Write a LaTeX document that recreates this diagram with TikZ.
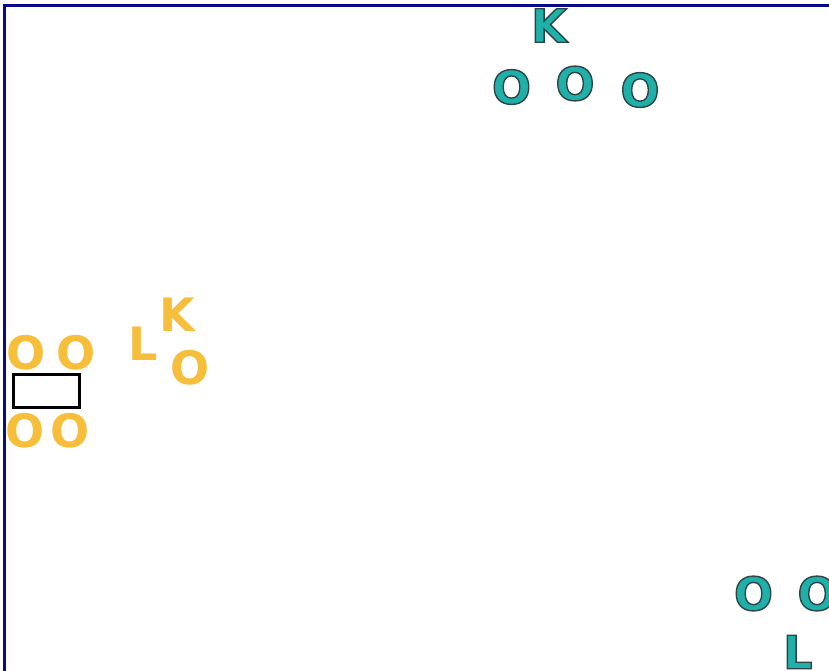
\documentclass[tikz,border=0pt]{standalone}
\usepackage{fontspec}
\setmainfont{DejaVu Sans}
\definecolor{tealfill}{RGB}{32,176,170}
\definecolor{goldfill}{RGB}{246,190,58}
\definecolor{framenavy}{RGB}{10,10,140}
% fill and stroke the glyph, with a dark edge
\newcommand{\tealglyph}[1]{\special{pdf:literal direct 0.18 0.27 0.27 RG 1.4 w 2 Tr}#1\special{pdf:literal direct 0 Tr}}

\begin{document}
\begin{tikzpicture}[x=1pt, y=-1pt, line join=miter,
  letter/.style={inner sep=0pt, font=\fontsize{46}{46}\selectfont\bfseries},
  tealletter/.style={letter, text=tealfill},
  goldletter/.style={letter, text=goldfill}]
  \useasboundingbox (0,0) rectangle (829,670);
  \clip (0,0) rectangle (829,670);
  \draw[framenavy, line width=3pt] (4.5,672) -- (4.5,5.5) -- (831,5.5);
  % teal group at the top
  \node[tealletter] (topK) at (549,25.5) {\tealglyph{K}};
  \foreach \n/\x/\y in {1/511.5/87, 2/575/83.5, 3/640/90}
    \node[tealletter] (topO\n) at (\x,\y) {\tealglyph{O}};
  % teal group at the bottom right
  \foreach \n/\x in {1/753.5, 2/817}
    \node[tealletter] (lowO\n) at (\x,593.5) {\tealglyph{O}};
  \node[tealletter, anchor=north west] (lowL) at (783,635) {\tealglyph{L}};
  % gold group on the left
  \node[draw, line width=3pt, minimum width=66, minimum height=33] (slot) at (46,390.5) {};
  \foreach \n/\x/\y in {1/26/352.5, 2/76/352.5, 3/25.5/431, 4/70.5/431}
    \node[goldletter] (slotO\n) at (\x,\y) {O};
  \node[goldletter] (goldK) at (177,315) {K};
  \node[goldletter] (goldL) at (143.5,343.5) {L};
  \node[goldletter] (goldO) at (190.5,367.5) {O};
\end{tikzpicture}
\end{document}
